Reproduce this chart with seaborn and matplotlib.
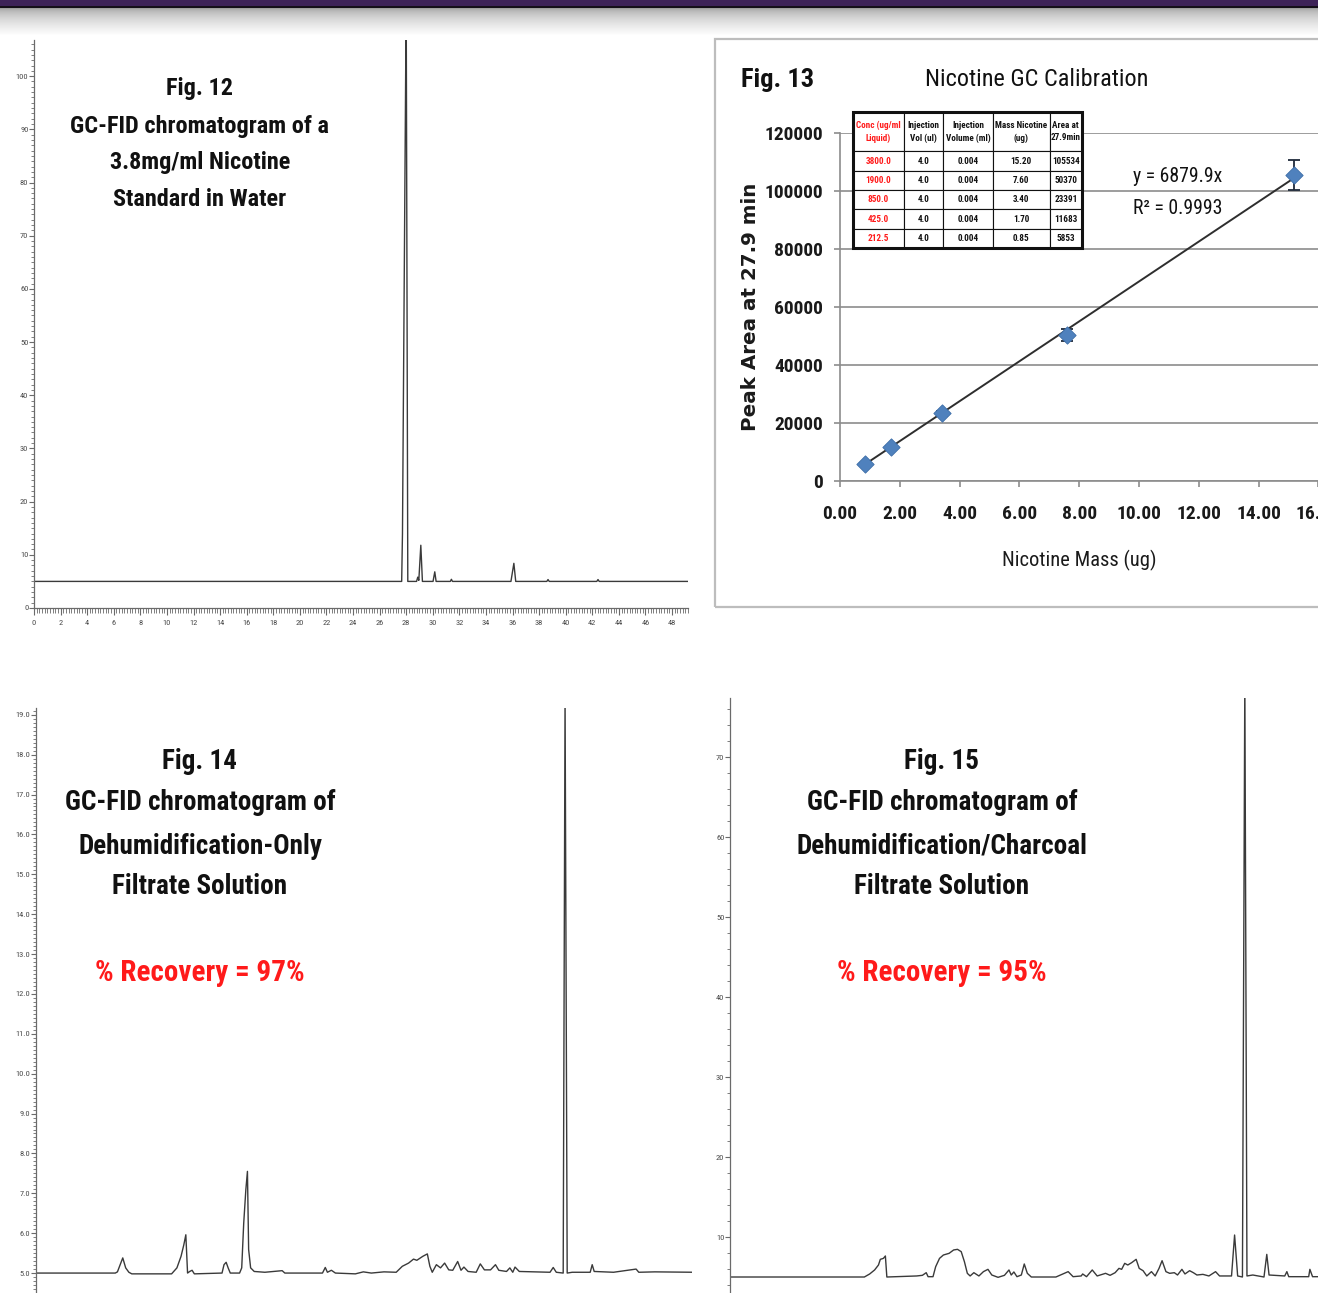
import numpy as np
import pandas as pd
import matplotlib
matplotlib.use("Agg")
import matplotlib.pyplot as plt
from matplotlib import font_manager
from matplotlib.ticker import MultipleLocator, AutoMinorLocator
from matplotlib.patches import Rectangle
import seaborn as sns

# ------------------------------------------------------------------
# DATA
# ------------------------------------------------------------------
# Fig. 12 : GC-FID trace, 3.8 mg/ml nicotine standard  (time [min], signal)
fig12_trace = [
    (0.00, 5.0), (27.66, 5.0), (27.72, 14.0), (28.00, 115.0), (28.12, 5.0),
    (28.30, 5.0), (28.78, 5.0), (28.87, 5.8), (28.95, 5.2), (29.10, 11.8),
    (29.22, 5.0), (30.02, 5.0), (30.15, 6.8), (30.25, 5.0), (31.32, 5.0),
    (31.40, 5.4), (31.48, 5.0), (35.88, 5.0), (36.10, 8.4), (36.24, 5.0),
    (38.58, 5.0), (38.67, 5.35), (38.76, 5.0), (42.34, 5.0), (42.43, 5.35),
    (42.52, 5.0), (49.45, 5.0),
]
fig12_xticks = list(range(0, 49, 2))
fig12_yticks = [0, 10, 20, 30, 40, 50, 60, 70, 80, 90, 100]

# Fig. 14 : Dehumidification-only filtrate  (time [min], signal)
fig14_trace = [
    (0.00, 5.00), (5.96, 5.00), (6.12, 5.03), (6.52, 5.38), (6.74, 5.13),
    (6.98, 5.02), (7.20, 4.98), (10.19, 4.98), (10.59, 5.13), (10.90, 5.42),
    (11.11, 5.71), (11.26, 5.96), (11.39, 5.00), (11.55, 5.04), (11.73, 5.07),
    (11.90, 4.98), (13.98, 5.00), (14.13, 5.21), (14.29, 5.27), (14.44, 5.13),
    (14.60, 5.00), (15.30, 5.00), (15.46, 5.13), (15.61, 6.25), (15.77, 7.09),
    (15.89, 7.55), (15.98, 5.59), (16.13, 5.13), (16.40, 5.04), (17.20, 5.02),
    (18.50, 5.06), (18.70, 5.00), (21.53, 5.00), (21.74, 5.14), (21.90, 5.02),
    (22.20, 5.07), (22.50, 5.00), (24.00, 4.98), (24.60, 5.03), (25.20, 5.00),
    (26.15, 5.03), (27.07, 5.02), (27.53, 5.17), (28.00, 5.25), (28.37, 5.35),
    (28.62, 5.32), (29.07, 5.42), (29.41, 5.48), (29.60, 5.17), (29.78, 5.02),
    (30.09, 5.21), (30.40, 5.13), (30.71, 5.25), (31.02, 5.08), (31.32, 5.07),
    (31.69, 5.29), (31.94, 5.07), (32.16, 5.15), (32.47, 5.04), (33.08, 5.02),
    (33.39, 5.23), (33.70, 5.08), (34.16, 5.08), (34.53, 5.21), (34.78, 5.07),
    (35.36, 5.04), (35.61, 5.13), (35.83, 5.02), (36.00, 5.15), (36.32, 5.04),
    (38.63, 5.02), (38.87, 5.14), (39.10, 5.02), (39.62, 5.00), (39.76, 19.5),
    (39.92, 5.00), (40.30, 5.02), (41.65, 5.02), (41.80, 5.21), (41.95, 5.04),
    (43.40, 5.02), (45.10, 5.10), (45.30, 5.02), (46.50, 5.03), (49.50, 5.02),
]
fig14_yticks = [5.0, 6.0, 7.0, 8.0, 9.0, 10.0, 11.0, 12.0, 13.0, 14.0, 15.0,
                16.0, 17.0, 18.0, 19.0]

# Fig. 15 : Dehumidification/charcoal filtrate  (time [min], signal)
fig15_trace = [
    (0.00, 5.00), (10.10, 5.00), (10.50, 5.38), (10.87, 5.88), (11.16, 6.50),
    (11.30, 7.21), (11.53, 7.33), (11.68, 7.63), (11.79, 5.00), (14.03, 5.13),
    (14.46, 5.21), (14.75, 5.54), (14.89, 5.04), (15.26, 5.04), (15.46, 6.29),
    (15.75, 7.33), (16.04, 7.75), (16.47, 7.96), (16.81, 8.38), (17.10, 8.46),
    (17.38, 8.17), (17.62, 6.92), (17.84, 5.46), (18.05, 5.13), (18.33, 5.54),
    (18.71, 5.13), (19.05, 5.67), (19.39, 5.96), (19.68, 5.25), (20.15, 4.96),
    (20.63, 5.21), (20.97, 5.88), (21.14, 5.25), (21.34, 5.63), (21.57, 5.04),
    (21.90, 5.25), (22.12, 6.63), (22.35, 5.46), (22.65, 5.00), (24.50, 5.00),
    (25.42, 5.67), (25.79, 5.04), (26.40, 5.13), (26.51, 5.38), (26.80, 5.04),
    (27.23, 5.88), (27.60, 5.13), (28.23, 5.46), (28.57, 5.21), (28.95, 5.54),
    (29.24, 6.08), (29.44, 5.96), (29.67, 6.71), (29.90, 6.50), (30.19, 6.79),
    (30.53, 7.21), (30.76, 6.08), (31.05, 5.79), (31.33, 5.13), (31.68, 5.67),
    (31.96, 5.13), (32.25, 6.08), (32.48, 7.04), (32.77, 5.67), (33.05, 5.46),
    (33.40, 5.54), (33.64, 5.25), (33.97, 5.96), (34.20, 5.38), (34.55, 5.79),
    (34.83, 5.54), (35.10, 5.25), (35.55, 5.33), (36.00, 5.13), (36.50, 5.67),
    (36.80, 5.13), (37.70, 5.13), (37.93, 10.25), (38.16, 5.13), (38.52, 5.00),
    (38.70, 80.0), (38.86, 5.13), (39.30, 5.25), (40.14, 5.00), (40.35, 7.83),
    (40.52, 5.25), (41.70, 5.13), (41.86, 5.67), (42.00, 5.04), (43.50, 5.04),
    (43.59, 5.96), (43.79, 5.04), (44.30, 5.04),
]
fig15_yticks = [10, 20, 30, 40, 50, 60, 70]

# Fig. 13 : nicotine GC calibration
conc_ug_ml = [3800.0, 1900.0, 850.0, 425.0, 212.5]
inj_vol_ul = [4.0, 4.0, 4.0, 4.0, 4.0]
inj_vol_ml = [0.004, 0.004, 0.004, 0.004, 0.004]
mass_ug = [15.20, 7.60, 3.40, 1.70, 0.85]
area_27_9 = [105534, 50370, 23391, 11683, 5853]
area_err = [5200, 2200, 900, 500, 300]
cal_xticks = [0, 2, 4, 6, 8, 10, 12, 14, 16]
cal_yticks = [0, 20000, 40000, 60000, 80000, 100000, 120000]
table_header = ["Conc (ug/ml\nLiquid)", "Injection\nVol (ul)",
                "Injection\nVolume (ml)", "Mass Nicotine\n(ug)", "Area at\n27.9min"]

# ------------------------------------------------------------------
# STYLE
# ------------------------------------------------------------------
sns.set_style("white")
_names = {f.name for f in font_manager.fontManager.ttflist}
NARROW = next((n for n in ["Liberation Sans Narrow", "Roboto Condensed",
                           "Open Sans Condensed", "Liberation Sans"] if n in _names),
              "DejaVu Sans")
plt.rcParams["font.family"] = [NARROW, "DejaVu Sans"]
plt.rcParams["axes.unicode_minus"] = False

W, H = 1318, 1293
fig = plt.figure(figsize=(W / 100, H / 100), dpi=100)
fig.patch.set_facecolor("white")


def px_axes(left, top, right, bottom, **kw):
    return fig.add_axes([left / W, 1 - bottom / H, (right - left) / W, (bottom - top) / H], **kw)


def ftext(x, y, s, **kw):
    return fig.text(x / W, 1 - y / H, s, **kw)


# ---------------- header band ----------------
hdr = px_axes(0, 0, W, 36)
band = np.ones((36, 2, 3))
band[0:6] = np.array([0x3d, 0x22, 0x58]) / 255
band[6:8] = np.array([0.08, 0.06, 0.10])
for i in range(8, 36):
    t = (i - 8) / 27.0
    band[i] = 0.62 + 0.38 * min(1.0, t ** 0.55)
hdr.imshow(band, aspect="auto", interpolation="nearest")
hdr.set_axis_off()

TRACE = "#3a3a3a"
AXC = "#6a6a6a"
TICKLAB = "#4a4a4a"


def draw_trace(ax, trace):
    df = pd.DataFrame(trace, columns=["time", "signal"])
    sns.lineplot(data=df, x="time", y="signal", ax=ax, color=TRACE, lw=1.0,
                 estimator=None, sort=False)
    ax.set_xlabel("")
    ax.set_ylabel("")


def style_chrom(ax, xlim, ylim, yticks, yminor, yfmt, show_x=False, xticks=None):
    ax.set_xlim(*xlim)
    ax.set_ylim(*ylim)
    ax.patch.set_alpha(0)
    for s in ["top", "right"]:
        ax.spines[s].set_visible(False)
    ax.spines["left"].set_color(AXC)
    ax.spines["left"].set_linewidth(0.9)
    ax.set_yticks(yticks, [yfmt % v for v in yticks], fontsize=6, color=TICKLAB)
    ax.yaxis.set_minor_locator(AutoMinorLocator(yminor))
    ax.tick_params(axis="y", which="major", direction="out", length=3.4, width=0.8,
                   color=AXC, pad=0.6, left=True)
    ax.tick_params(axis="y", which="minor", direction="out", length=2.0, width=0.6,
                   color=AXC, left=True)
    if show_x:
        ax.spines["bottom"].set_color(AXC)
        ax.spines["bottom"].set_linewidth(0.9)
        ax.set_xticks(xticks, [str(v) for v in xticks], fontsize=6, color=TICKLAB)
        ax.xaxis.set_minor_locator(MultipleLocator(0.2))
        ax.tick_params(axis="x", which="major", direction="out", length=5.0, width=0.8,
                       color=AXC, pad=3.5, bottom=True)
        ax.tick_params(axis="x", which="minor", direction="out", length=3.4, width=0.6,
                       color=AXC, bottom=True)
    else:
        ax.spines["bottom"].set_visible(False)
        ax.tick_params(axis="x", which="both", bottom=False, labelbottom=False)


# ---------------- Fig. 12 ----------------
ax12 = px_axes(34, 40, 688, 608)
draw_trace(ax12, fig12_trace)
style_chrom(ax12, (0, 49.2), (0, 106.8), fig12_yticks, 10, "%d",
            show_x=True, xticks=fig12_xticks)

TITLE_KW = dict(ha="center", va="center", fontweight="bold", color="#111111")
for y, s in zip([88, 126, 163, 199],
                ["Fig. 12", "GC-FID chromatogram of a", "3.8mg/ml Nicotine",
                 "Standard in Water"]):
    ftext(200, y, s, fontsize=17.5, **TITLE_KW)

# ---------------- Fig. 13 frame ----------------
fig.add_artist(Rectangle((715 / W, 1 - 607 / H), (1400 - 715) / W, (607 - 39) / H,
                         transform=fig.transFigure, fill=False,
                         edgecolor="#bdbdbd", lw=1.6))

ax13 = px_axes(840, 133, 1318.4, 481)
GRID = "#8c8c8c"
BLUE = "#4f81bd"
slope = float(np.dot(mass_ug, area_27_9) / np.dot(mass_ug, mass_ug))
x_fit = [min(mass_ug), max(mass_ug)]
sns.lineplot(x=x_fit, y=[slope * v for v in x_fit], ax=ax13, color="#2e2e2e",
             lw=1.4, zorder=3)
ax13.errorbar(mass_ug, area_27_9, yerr=area_err, fmt="none", ecolor="#1f2a3a",
              elinewidth=1.3, capsize=4, capthick=1.3, zorder=4)
sns.scatterplot(x=mass_ug, y=area_27_9, ax=ax13, marker="D", s=78, color=BLUE,
                edgecolor="#3d6ea8", linewidth=0.6, zorder=5, legend=False)
ax13.set_xlim(0, 16)
ax13.set_ylim(0, 120000)
ax13.set_axisbelow(True)
ax13.yaxis.grid(True, color=GRID, lw=1.2)
ax13.xaxis.grid(False)
for s in ["top", "right"]:
    ax13.spines[s].set_visible(False)
for s in ["left", "bottom"]:
    ax13.spines[s].set_color(GRID)
    ax13.spines[s].set_linewidth(1.2)
ax13.set_xticks(cal_xticks, [f"{v:.2f}" for v in cal_xticks], fontsize=14,
                fontweight="bold", color="#1a1a1a")
ax13.set_yticks(cal_yticks, [f"{v:d}" for v in cal_yticks], fontsize=14,
                fontweight="bold", color="#1a1a1a")
ax13.tick_params(axis="x", direction="out", length=4, width=1.2, color=GRID,
                 pad=13, bottom=True)
ax13.tick_params(axis="y", direction="out", length=4, width=1.2, color=GRID,
                 pad=8.2, left=True)
ax13.set_xlabel("Nicotine Mass (ug)", fontsize=14.8, color="#1a1a1a")
ax13.xaxis.set_label_coords(0.5, (481 - 560) / 348)
ax13.xaxis.label.set_va("center")
ax13.set_ylabel("Peak Area at 27.9 min", family=["DejaVu Sans"], fontweight="bold",
                fontsize=14.3, color="#1a1a1a")
ax13.yaxis.set_label_coords((750 - 840) / 478.4, 0.5)
ax13.yaxis.label.set_va("center")

ax13.text((1037 - 840) / 478.4, (481 - 80) / 348, "Nicotine GC Calibration",
          transform=ax13.transAxes, ha="center", va="center", fontsize=17.5,
          color="#111111")
ftext(778, 80, "Fig. 13", fontsize=19, **TITLE_KW)
ax13.text((1133 - 840) / 478.4, (481 - 176) / 348, f"y = {slope:.1f}x",
          transform=ax13.transAxes, ha="left", va="center", fontsize=14.2,
          color="#111111")
ax13.text((1133 - 840) / 478.4, (481 - 209) / 348, "R² = 0.9993",
          transform=ax13.transAxes, ha="left", va="center", fontsize=14.2,
          color="#111111")

# calibration table
rows = [table_header] + [
    [f"{c:.1f}", f"{v:.1f}", f"{m:.3f}", f"{x:.2f}", f"{a:d}"]
    for c, v, m, x, a in zip(conc_ug_ml, inj_vol_ul, inj_vol_ml, mass_ug, area_27_9)
]
tb_left, tb_top, tb_right, tb_bot = 853, 112, 1082, 248
bbox = [(tb_left - 840) / 478.4, (481 - tb_bot) / 348,
        (tb_right - tb_left) / 478.4, (tb_bot - tb_top) / 348]
tab = ax13.table(cellText=rows, cellLoc="center", bbox=bbox)
tab.auto_set_font_size(False)
col_w = [50.7, 39.3, 49.3, 56.7, 32.3]
for (r, c), cell in tab.get_celld().items():
    cell.set_width(col_w[c])
    cell.set_height(39.3 if r == 0 else 19.3)
    cell.set_linewidth(0.8)
    cell.set_edgecolor("#111111")
    cell.set_facecolor("white")
    txt = cell.get_text()
    txt.set_fontsize(6.6)
    txt.set_fontweight("bold")
    txt.set_linespacing(1.45)
    txt.set_color("#ff1a1a" if c == 0 else "#111111")
tab.set_zorder(6)
ax13.add_patch(Rectangle((bbox[0], bbox[1]), bbox[2], bbox[3], transform=ax13.transAxes,
                         fill=False, edgecolor="#111111", lw=2.2, zorder=7, clip_on=False))

# ---------------- Fig. 14 ----------------
ax14 = px_axes(36, 708, 692, 1293)
draw_trace(ax14, fig14_trace)
style_chrom(ax14, (0, 49.3), (4.5, 19.17), fig14_yticks, 10, "%.1f")
for y, s in zip([762, 803, 846, 887],
                ["Fig. 14", "GC-FID chromatogram of", "Dehumidification-Only",
                 "Filtrate Solution"]):
    ftext(200, y, s, fontsize=19.5, **TITLE_KW)
ftext(200, 973, "% Recovery = 97%", fontsize=21, ha="center", va="center",
      fontweight="bold", color="#ff1a1a")

# ---------------- Fig. 15 ----------------
ax15 = px_axes(730, 698, 1318, 1293)
draw_trace(ax15, fig15_trace)
style_chrom(ax15, (0, 44.2), (3.0, 77.4), fig15_yticks, 5, "%d")
for y, s in zip([762, 803, 846, 887],
                ["Fig. 15", "GC-FID chromatogram of", "Dehumidification/Charcoal",
                 "Filtrate Solution"]):
    ftext(942, y, s, fontsize=19.5, **TITLE_KW)
ftext(942, 973, "% Recovery = 95%", fontsize=21, ha="center", va="center",
      fontweight="bold", color="#ff1a1a")

fig.savefig("out.png", dpi=100, facecolor="white")
